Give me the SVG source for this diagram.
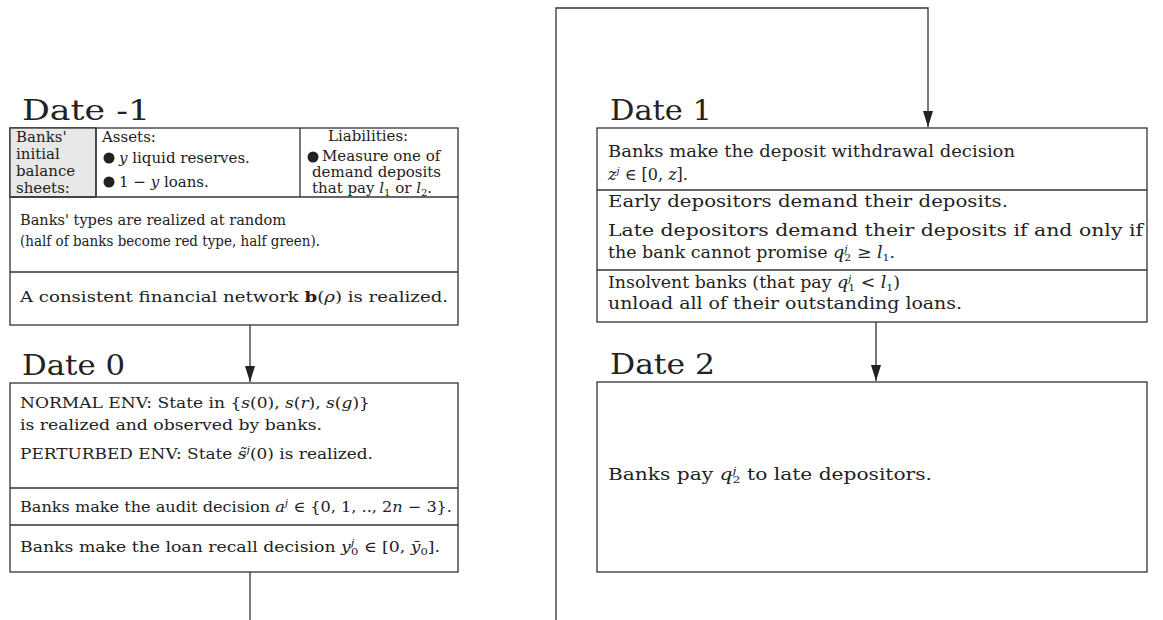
<svg xmlns="http://www.w3.org/2000/svg" width="1163" height="620" viewBox="0 0 1163 620">
<defs>
<style>
.box{fill:#fff;stroke:#333;stroke-width:1.3}
.shade{fill:#e8e8e8;stroke:#333;stroke-width:1.3}
.div{stroke:#333;stroke-width:1.3;fill:none}
.conn{stroke:#333;stroke-width:1.3;fill:none}
.head{fill:#222}
.t{font-family:"DejaVu Serif","Liberation Serif",serif;font-size:15px;fill:#222}
.r{font-size:16px}
.title{font-family:"DejaVu Serif","Liberation Serif",serif;font-size:28px;fill:#222}
.i{font-style:italic}
.b{font-weight:bold}
.s{font-size:10px}
</style>
</defs>
<rect width="1163" height="620" fill="#fff"/>

<g id="connectors">
<line class="conn" x1="250" y1="325" x2="250" y2="382"/>
<path class="head" d="M245,366 L255,366 L250,382 Z"/>
<path class="conn" d="M556,620 V8 H928 V127"/>
<path class="head" d="M923,111 L933,111 L928,127 Z"/>
<line class="conn" x1="876" y1="322" x2="876" y2="381"/>
<path class="head" d="M871,365 L881,365 L876,381 Z"/>
<line class="conn" x1="250" y1="572" x2="250" y2="620"/>
</g>

<g id="date-minus1">
<text class="title" x="22" y="120" textLength="128" lengthAdjust="spacingAndGlyphs">Date -1</text>
<rect class="box" x="10" y="128" width="448" height="197"/>
<rect class="shade" x="10" y="128" width="86" height="69"/>
<line class="div" x1="96" y1="128" x2="96" y2="197"/>
<line class="div" x1="300" y1="128" x2="300" y2="197"/>
<line class="div" x1="10" y1="197" x2="458" y2="197"/>
<line class="div" x1="10" y1="272" x2="458" y2="272"/>
<text class="t" x="16" y="142">Banks'</text>
<text class="t" x="16" y="159">initial</text>
<text class="t" x="16" y="176">balance</text>
<text class="t" x="16" y="193">sheets:</text>
<text class="t" x="102" y="142">Assets:</text>
<circle cx="109" cy="158" r="5.5" fill="#222"/>
<text class="t" x="119" y="163"><tspan class="i">y</tspan> liquid reserves.</text>
<circle cx="109" cy="182" r="5.5" fill="#222"/>
<text class="t" x="119" y="187">1 − <tspan class="i">y</tspan> loans.</text>
<text class="t" x="328" y="141">Liabilities:</text>
<circle cx="313" cy="157" r="5.5" fill="#222"/>
<text class="t" x="322" y="161">Measure one of</text>
<text class="t" x="312" y="177">demand deposits</text>
<text class="t" x="312" y="193">that pay <tspan class="i">l</tspan><tspan class="s" dy="3">1</tspan><tspan dy="-3"> or </tspan><tspan class="i">l</tspan><tspan class="s" dy="3">2</tspan><tspan dy="-3">.</tspan></text>
<text class="t" x="20" y="225" textLength="266" lengthAdjust="spacingAndGlyphs">Banks' types are realized at random</text>
<text class="t" x="20" y="246" textLength="300" lengthAdjust="spacingAndGlyphs">(half of banks become red type, half green).</text>
<text class="t" x="20" y="302" textLength="428" lengthAdjust="spacingAndGlyphs">A consistent financial network <tspan class="b">b</tspan>(<tspan class="i">ρ</tspan>) is realized.</text>
</g>

<g id="date-0">
<text class="title" x="22" y="375" textLength="103" lengthAdjust="spacingAndGlyphs">Date 0</text>
<rect class="box" x="10" y="383" width="448" height="189"/>
<line class="div" x1="10" y1="488" x2="458" y2="488"/>
<line class="div" x1="10" y1="525" x2="458" y2="525"/>
<text class="t" x="20" y="408" textLength="350" lengthAdjust="spacingAndGlyphs">NORMAL ENV: State in {<tspan class="i">s</tspan>(0), <tspan class="i">s</tspan>(<tspan class="i">r</tspan>), <tspan class="i">s</tspan>(<tspan class="i">g</tspan>)}</text>
<text class="t" x="20" y="430" textLength="302" lengthAdjust="spacingAndGlyphs">is realized and observed by banks.</text>
<text class="t" x="20" y="459" textLength="353" lengthAdjust="spacingAndGlyphs">PERTURBED ENV: State <tspan class="i">s̃</tspan><tspan class="s i" dy="-6">j</tspan><tspan dy="6">(0) is realized.</tspan></text>
<text class="t" x="20" y="512" textLength="432" lengthAdjust="spacingAndGlyphs">Banks make the audit decision <tspan class="i">a</tspan><tspan class="s i" dy="-6">j</tspan><tspan dy="6"> ∈ {0, 1, .., 2</tspan><tspan class="i">n</tspan> − 3}.</text>
<text class="t" x="20" y="552" textLength="420" lengthAdjust="spacingAndGlyphs">Banks make the loan recall decision <tspan class="i">y</tspan><tspan class="s i" dy="-6">j</tspan><tspan class="s" dx="-3" dy="9">0</tspan><tspan dy="-3"> ∈ [0, </tspan><tspan class="i">ȳ</tspan><tspan class="s" dy="3">0</tspan><tspan dy="-3">].</tspan></text>
</g>

<g id="date-1">
<text class="title" x="610" y="120" textLength="102" lengthAdjust="spacingAndGlyphs">Date 1</text>
<rect class="box" x="597" y="128" width="550" height="194"/>
<line class="div" x1="597" y1="190" x2="1147" y2="190"/>
<line class="div" x1="597" y1="270" x2="1147" y2="270"/>
<text class="t r" x="608" y="157" textLength="407" lengthAdjust="spacingAndGlyphs">Banks make the deposit withdrawal decision</text>
<text class="t r" x="608" y="180"><tspan class="i">z</tspan><tspan class="s i" dy="-6">j</tspan><tspan dy="6"> ∈ [0, </tspan><tspan class="i">z</tspan>].</text>
<text class="t r" x="608" y="207" textLength="400" lengthAdjust="spacingAndGlyphs">Early depositors demand their deposits.</text>
<text class="t r" x="608" y="236" textLength="535" lengthAdjust="spacingAndGlyphs">Late depositors demand their deposits if and only if</text>
<text class="t r" x="608" y="258" textLength="287" lengthAdjust="spacingAndGlyphs">the bank cannot promise <tspan class="i">q</tspan><tspan class="s i" dy="-6">j</tspan><tspan class="s" dx="-3" dy="9">2</tspan><tspan dy="-3"> ≥ </tspan><tspan class="i">l</tspan><tspan class="s" dy="3">1</tspan><tspan dy="-3">.</tspan></text>
<text class="t r" x="608" y="288" textLength="292" lengthAdjust="spacingAndGlyphs">Insolvent banks (that pay <tspan class="i">q</tspan><tspan class="s i" dy="-6">j</tspan><tspan class="s" dx="-3" dy="9">1</tspan><tspan dy="-3"> &lt; </tspan><tspan class="i">l</tspan><tspan class="s" dy="3">1</tspan><tspan dy="-3">)</tspan></text>
<text class="t r" x="608" y="309" textLength="354" lengthAdjust="spacingAndGlyphs">unload all of their outstanding loans.</text>
</g>

<g id="date-2">
<text class="title" x="610" y="374" textLength="105" lengthAdjust="spacingAndGlyphs">Date 2</text>
<rect class="box" x="597" y="382" width="550" height="190"/>
<text class="t r" x="608" y="480" textLength="324" lengthAdjust="spacingAndGlyphs">Banks pay <tspan class="i">q</tspan><tspan class="s i" dy="-6">j</tspan><tspan class="s" dx="-3" dy="9">2</tspan><tspan dy="-3"> to late depositors.</tspan></text>
</g>
</svg>
